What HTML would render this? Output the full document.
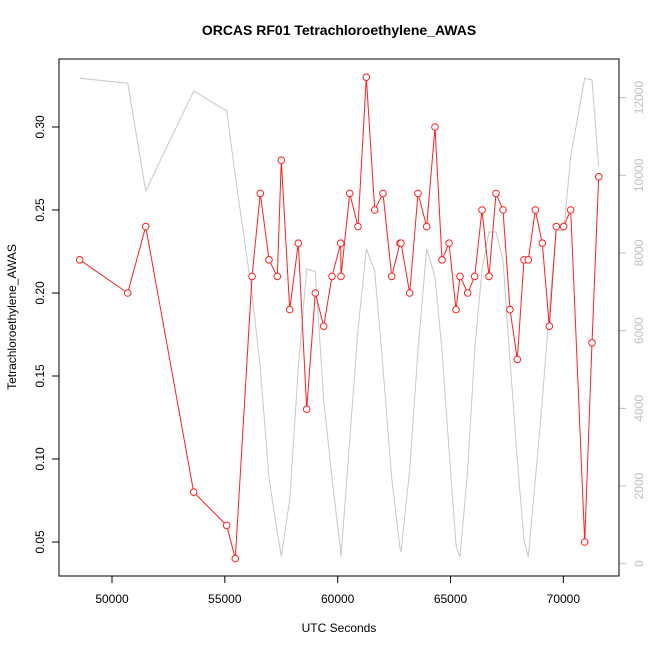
<!DOCTYPE html>
<html><head><meta charset="utf-8"><style>
html,body{margin:0;padding:0;background:#fff;}
svg{display:block;font-family:"Liberation Sans",sans-serif;}
</style></head><body>
<svg id="chart" width="650" height="650">
<text x="339" y="35" text-anchor="middle" font-size="14" font-weight="bold">ORCAS RF01 Tetrachloroethylene_AWAS</text>
<text x="339" y="632" text-anchor="middle" font-size="12">UTC Seconds</text>
<text transform="translate(16,317) rotate(-90)" text-anchor="middle" font-size="12">Tetrachloroethylene_AWAS</text>
<g id="grey"></g>
<g id="red"></g>
<g id="axes"></g>
<rect x="59" y="59" width="560" height="517" fill="none" stroke="#000" stroke-width="1"/>
</svg>
<script>
const times=[48569,50696,51493,53620,55083,55464,56204,56572,56957,57325,57502,57875,58256,58628,59009,59381,59749,60134,60148,60533,60901,61269,61641,62009,62394,62762,62806,63192,63560,63945,64313,64623,64934,65244,65421,65762,66072,66396,66706,67016,67326,67637,67960,68257,68447,68758,69068,69378,69688,70016,70326,70947,71270,71567];
const values=[0.22,0.20,0.24,0.08,0.06,0.04,0.21,0.26,0.22,0.21,0.28,0.19,0.23,0.13,0.20,0.18,0.21,0.23,0.21,0.26,0.24,0.33,0.25,0.26,0.21,0.23,0.23,0.20,0.26,0.24,0.30,0.22,0.23,0.19,0.21,0.20,0.21,0.25,0.21,0.26,0.25,0.19,0.16,0.22,0.22,0.25,0.23,0.18,0.24,0.24,0.25,0.05,0.17,0.27];
const altitude=[12499,12370,9597,12172,11657,9983,6969,5038,2206,811,180,1648,5038,7587,7519,4214,2206,300,180,3185,6018,8111,7537,5038,2206,400,309,2420,5503,8111,7390,5503,2928,481,172,2420,5503,7563,8541,8541,7820,5246,2670,610,172,2155,4214,6533,8575,8575,10480,12499,12455,10211];
const xTicks=[50000,55000,60000,65000,70000];
const yTicks=[0.05,0.10,0.15,0.20,0.25,0.30];
const yTickLabels=["0.05","0.10","0.15","0.20","0.25","0.30"];
const rTicks=[0,2000,4000,6000,8000,10000,12000];

const NS="http://www.w3.org/2000/svg";
const X=t=>112+(t-50000)*0.022567;
const Y=v=>127+(0.30-v)*1660;
const R=v=>563.7-v*0.03884;
function mk(tag,attrs,parent){const e=document.createElementNS(NS,tag);for(const k in attrs)e.setAttribute(k,attrs[k]);parent.appendChild(e);return e;}
const grey=document.getElementById('grey'),red=document.getElementById('red'),axes=document.getElementById('axes');

const gl=mk('polyline',{points:times.map((t,i)=>X(t)+','+R(altitude[i])).join(' '),fill:'none',stroke:'#c8c8c8','stroke-width':1},grey);



const rl=mk('polyline',{points:times.map((t,i)=>X(t)+','+Y(values[i])).join(' '),fill:'none',stroke:'#ff2020','stroke-width':1},red);


times.forEach((t,i)=>{
  const c=mk('circle',{cx:X(t),cy:Y(values[i]),r:3.3,fill:'#fff',stroke:'#ff2020','stroke-width':1},red);
  
  
});

xTicks.forEach(v=>{
  const x=X(v);
  const l=mk('line',{x1:x,x2:x,y1:576,y2:583,stroke:'#000'},axes);
  
  
  const tx=mk('text',{x:x,y:603,'text-anchor':'middle','font-size':12},axes);
  tx.textContent=String(v);
  
  
});
yTicks.forEach((v,i)=>{
  const y=Y(v);
  const l=mk('line',{x1:52,x2:59,y1:y,y2:y,stroke:'#000'},axes);
  
  
  const tx=mk('text',{transform:'translate(44,'+y+') rotate(-90)','text-anchor':'middle','font-size':12},axes);
  tx.textContent=yTickLabels[i];
  
  
});
rTicks.forEach(v=>{
  const y=R(v);
  const l=mk('line',{x1:619,x2:626,y1:y,y2:y,stroke:'#bbb'},axes);
  
  
  const tx=mk('text',{transform:'translate(643,'+y+') rotate(-90)','text-anchor':'middle','font-size':12,fill:'#c0c0c0'},axes);
  tx.textContent=String(v);
  
  
});
</script>
</body></html>
